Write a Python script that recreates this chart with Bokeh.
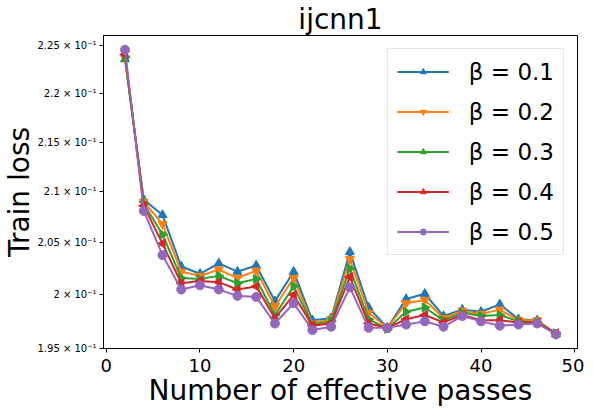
import numpy as np
from bokeh.plotting import figure
from bokeh.models import Range1d, FixedTicker
from bokeh.embed import file_html
from bokeh.resources import INLINE

passes = [2, 4, 6, 8, 10, 12, 14, 16, 18, 20, 22, 24, 26, 28, 30, 32, 34, 36, 38, 40, 42, 44, 46, 48]

loss_b01 = [0.2236, 0.2092, 0.2077, 0.2027, 0.2020, 0.2030, 0.2022, 0.2028, 0.1994, 0.2022, 0.1976, 0.1978,
            0.2041, 0.1988, 0.1969, 0.1996, 0.2001, 0.1980, 0.1986, 0.1984, 0.1991, 0.1977, 0.1976, 0.1963]
loss_b02 = [0.2237, 0.2090, 0.2068, 0.2022, 0.2018, 0.2024, 0.2016, 0.2023, 0.1989, 0.2016, 0.1973, 0.1977,
            0.2034, 0.1983, 0.1969, 0.1992, 0.1995, 0.1978, 0.1985, 0.1982, 0.1986, 0.1976, 0.1976, 0.1963]
loss_b03 = [0.2238, 0.2088, 0.2058, 0.2016, 0.2015, 0.2018, 0.2011, 0.2015, 0.1981, 0.2008, 0.1972, 0.1975,
            0.2025, 0.1977, 0.1968, 0.1984, 0.1988, 0.1976, 0.1983, 0.1980, 0.1981, 0.1975, 0.1974, 0.1964]
loss_b04 = [0.2241, 0.2086, 0.2049, 0.2011, 0.2013, 0.2012, 0.2005, 0.2008, 0.1978, 0.2000, 0.1971, 0.1973,
            0.2017, 0.1973, 0.1969, 0.1977, 0.1981, 0.1974, 0.1981, 0.1976, 0.1976, 0.1974, 0.1974, 0.1964]
loss_b05 = [0.2246, 0.2081, 0.2038, 0.2005, 0.2009, 0.2005, 0.1999, 0.1998, 0.1973, 0.1992, 0.1967, 0.1970,
            0.2007, 0.1969, 0.1969, 0.1972, 0.1975, 0.1970, 0.1980, 0.1975, 0.1971, 0.1972, 0.1973, 0.1963]

series_labels = ["β = 0.1", "β = 0.2", "β = 0.3", "β = 0.4", "β = 0.5"]
colors = ["#1f77b4", "#ff7f0e", "#2ca02c", "#d62728", "#9467bd"]
markers = [("triangle", 0.0), ("inverted_triangle", 0.0), ("triangle", -np.pi / 2),
           ("triangle", np.pi / 2), ("circle", 0.0)]

x_ticks = [0, 10, 20, 30, 40, 50]
y_ticks = [0.195, 0.2, 0.205, 0.21, 0.215, 0.22, 0.225]
y_tick_labels = ["1.95 × 10⁻¹", "2 × 10⁻¹", "2.05 × 10⁻¹", "2.1 × 10⁻¹",
                 "2.15 × 10⁻¹", "2.2 × 10⁻¹", "2.25 × 10⁻¹"]

FONT = "DejaVu Sans"
FW, FH = 474, 313

p = figure(frame_width=FW, frame_height=FH, output_backend="svg", toolbar_location=None,
           y_axis_type="log", title="ijcnn1",
           x_range=Range1d(-0.3, 50.3), y_range=Range1d(0.19498, 0.22612),
           min_border_left=96, min_border_right=7, min_border_top=33, min_border_bottom=50)

p.title.align = "center"
p.title.text_font = FONT
p.title.text_font_size = "28px"
p.title.text_font_style = "normal"
p.title.text_color = "black"
p.title.text_line_height = 1.0
p.title.standoff = 0
p.title.offset = 0

p.xgrid.visible = False
p.ygrid.visible = False
p.outline_line_color = "black"
p.outline_line_width = 1
p.outline_line_alpha = 1

all_series = [loss_b01, loss_b02, loss_b03, loss_b04, loss_b05]
for ys, lab, col, (mk, ang) in zip(all_series, series_labels, colors, markers):
    p.line(passes, ys, line_color=col, line_width=2, legend_label=lab)
    p.scatter(passes, ys, marker=mk, angle=ang, size=9, fill_color=col, line_color=col,
              legend_label=lab)

# axes
p.xaxis.ticker = FixedTicker(ticks=x_ticks)
p.xaxis.major_label_text_font_size = "18px"
p.xaxis.major_label_text_font = FONT
p.xaxis.axis_label = "Number of effective passes"
p.xaxis.axis_label_text_font_size = "28px"
p.xaxis.axis_label_text_font = FONT
p.xaxis.axis_label_text_font_style = "normal"
p.xaxis.axis_label_standoff = -1
p.xaxis.major_label_standoff = 6

p.yaxis.ticker = FixedTicker(ticks=y_ticks, minor_ticks=[])
p.yaxis.major_label_overrides = {t: s for t, s in zip(y_ticks, y_tick_labels)}
p.yaxis.major_label_text_font_size = "10px"
p.yaxis.major_label_text_font = FONT
p.yaxis.axis_label = "Train loss"
p.yaxis.axis_label_text_font_size = "28px"
p.yaxis.axis_label_text_font = FONT
p.yaxis.axis_label_text_font_style = "normal"
p.yaxis.axis_label_standoff = -2
p.yaxis.major_label_standoff = 3

for ax in (p.xaxis, p.yaxis):
    ax.major_tick_out = 4
    ax.major_tick_in = 0
    ax.minor_tick_out = 0
    ax.minor_tick_in = 0
    ax.minor_tick_line_color = None
    ax.axis_line_color = "black"
    ax.major_tick_line_color = "black"
    ax.major_label_text_color = "black"
    ax.axis_label_text_color = "black"
    ax.axis_label_text_line_height = 1.0
    ax.major_label_text_line_height = 1.0

leg = p.legend[0]
leg.location = "top_right"
leg.margin = 13
leg.padding = 9
leg.spacing = 13
leg.glyph_width = 52
leg.glyph_height = 15
leg.label_height = 27
leg.label_standoff = 20
leg.label_text_font = FONT
leg.label_text_font_size = "23px"
leg.label_text_color = "black"
leg.label_text_baseline = "middle"
leg.border_line_color = "#cccccc"
leg.border_line_width = 1
leg.background_fill_alpha = 0.8

open("out.html", "w").write(file_html(p, INLINE))
